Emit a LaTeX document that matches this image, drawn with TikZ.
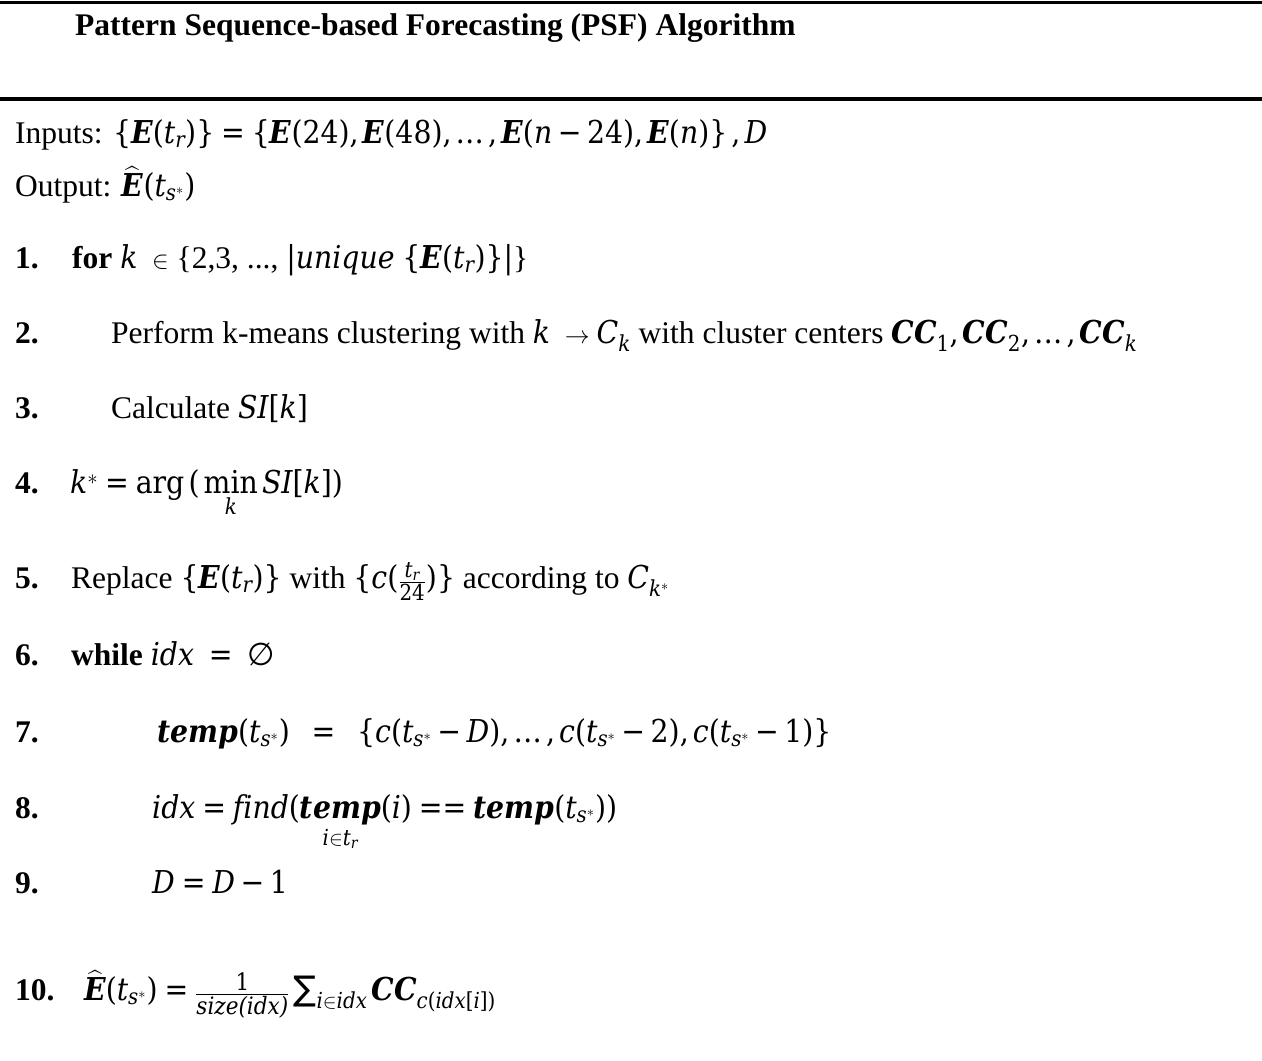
\documentclass[tikz,border=0pt]{standalone}
\usepackage{amsmath}
\usepackage{mathspec}
\setmainfont{Liberation Serif}
\setmathsfont(Digits,Latin)[Scale=1.0]{DejaVu Serif Condensed}
\newfontfamily\dvsc[Scale=1.0]{DejaVu Serif Condensed}
\newfontfamily\dvs{DejaVu Sans}
\newcommand\bfi[1]{\text{\dvsc\bfseries\itshape #1}}
\newcommand\dv[1]{\text{\dvsc #1}}
\newcommand\opn[1]{\text{\dvsc #1}}
\newcommand\lb{\mathopen{\dv{\{}}}
\newcommand\rb{\mathclose{\dv{\}}}}
\newcommand\lp{\mathopen{\dv{(}}}
\newcommand\rp{\mathclose{\dv{)}}}
\newcommand\ls{\mathopen{\dv{[}}}
\newcommand\rs{\mathclose{\dv{]}}}
\newcommand\eq{\mathrel{\dv{=}}}
\newcommand\mi{\mathbin{\dv{−}}}
\newcommand\vb{\mathord{\dv{|}}}
\newcommand\dts{\mathinner{\dv{…}}}
\newcommand\cm{\mathpunct{\dv{,}}}
\newcommand\emp{\mathord{\text{\dvs ∅}}}
\newcommand\sm{\mathop{\text{\dvs\fontsize{34}{38}\selectfont ∑}}\nolimits}
\newcommand\fr[1]{\text{\dvsc\fontsize{24}{26}\selectfont #1}}
\tikzset{
  txt/.style={anchor=base west, inner sep=0pt, font=\fontsize{31.5}{38}\selectfont},
  num/.style={txt, font=\fontsize{31.5}{38}\selectfont\bfseries},
  rulethick/.style={line width=4pt}
}
\begin{document}
\begin{tikzpicture}[x=1pt,y=-1pt]
\useasboundingbox (0,0) rectangle (1262,1061);
\coordinate (r1a) at (0,2); \coordinate (r1b) at (1262,2);
\coordinate (r2a) at (0,99); \coordinate (r2b) at (1262,99);
\draw[line width=3pt] (r1a) -- (r1b);
\draw[rulethick] (r2a) -- (r2b);
\node[num] (title) at (75,35.5) {Pattern Sequence-based Forecasting (PSF) Algorithm};
\node[txt] (inputs) at (15,143.5) {Inputs: $\lb\bfi{E}\lp t_r\rp\rb \eq \lb\bfi{E}\lp 24\rp\cm \bfi{E}\lp 48\rp\cm \dts\cm \bfi{E}\lp n\mi 24\rp\cm \bfi{E}\lp n\rp\rb\,\cm D$};
\node[txt] (output) at (15,196.5) {Output: $\widehat{\bfi{E}}\lp t_{s^*}\rp$};
\node[num] (n1) at (15,268.5) {1.};
\node[txt] (l1) at (72,268.5) {\textbf{for} $k\ \in$ \{2,3, ..., $\vb unique\ \lb\bfi{E}\lp t_r\rp\rb\vb$\}};
\node[num] (n2) at (15,343.5) {2.};
\node[txt] (l2) at (111,343.5) {Perform k-means clustering with $k\ \rightarrow C_k$ with cluster centers $\bfi{CC}_1\cm \bfi{CC}_2\cm \dts\cm \bfi{CC}_k$};
\node[num] (n3) at (15,418.5) {3.};
\node[txt] (l3) at (111,418.5) {Calculate $SI\ls k\rs$};
\node[num] (n4) at (15,493.5) {4.};
\node[txt] (l4) at (70,493.5) {$k^* \eq \opn{arg}\,\lp\,\mathop{\opn{min}}\limits_{k} SI\ls k\rs\rp$};
\node[num] (n5) at (15,588.5) {5.};
\node[txt] (l5) at (71,588.5) {Replace $\lb\bfi{E}\lp t_r\rp\rb$ with $\lb c\lp\frac{t_r}{24}\rp\rb$ according to $C_{k^*}$};
\node[num] (n6) at (15,665.5) {6.};
\node[txt] (l6) at (71,665.5) {\textbf{while} $idx\ \eq\ \emp$};
\node[num] (n7) at (15,742.5) {7.};
\node[txt] (l7) at (157,742.5) {$\bfi{temp}\lp t_{s^*}\rp\;\ \eq\;\ \lb c\lp t_{s^*}\mi D\rp\cm \dts\cm c\lp t_{s^*}\mi 2\rp\cm c\lp t_{s^*}\mi 1\rp\rb$};
\node[num] (n8) at (15,818.5) {8.};
\node[txt] (l8) at (152,818.5) {$idx \eq find\lp\underset{i\in t_r}{\bfi{temp}}\lp i\rp \eq\eq \bfi{temp}\lp t_{s^*}\rp\rp$};
\node[num] (n9) at (15,893.5) {9.};
\node[txt] (l9) at (152,893.5) {$D \eq D \mi 1$};
\node[num] (n10) at (15,1000.5) {10.};
\node[txt] (l10) at (84,1000.5) {$\widehat{\bfi{E}}\lp t_{s^*}\rp \eq \frac{\fr{1}}{\fr{\itshape size(idx)}}\sm_{i\in idx}\bfi{CC}_{c\lp idx\ls i\rs\rp}$};
\end{tikzpicture}
\end{document}
